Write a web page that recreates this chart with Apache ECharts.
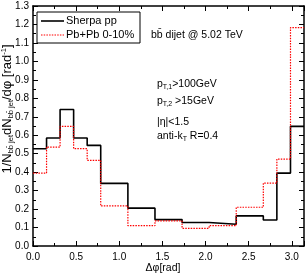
<!DOCTYPE html>
<html><head><meta charset="utf-8">
<script src="https://cdn.jsdelivr.net/npm/echarts@6/dist/echarts.min.js"></script>
<style>html,body{margin:0;padding:0;background:#fff}#c{width:305px;height:277px}</style>
</head><body><div id="c"></div>
<script>
// bin edges of Δφ (rad)
var binEdges = [0, 0.157, 0.314, 0.471, 0.628, 0.785, 1.100, 1.414, 1.728, 2.042, 2.356, 2.670, 2.827, 2.985, 3.1416];
// Sherpa pp
var ppValues = [0.527, 0.585, 0.739, 0.585, 0.545, 0.339, 0.205, 0.143, 0.127, 0.118, 0.163, 0.141, 0.395, 0.648];
// Pb+Pb 0-10%
var pbpbValues = [0.395, 0.536, 0.648, 0.527, 0.464, 0.217, 0.110, 0.136, 0.096, 0.110, 0.210, 0.341, 0.471, 1.183];
var xTicks = [0.0, 0.5, 1.0, 1.5, 2.0, 2.5, 3.0];
var yTicks = [0.0, 0.1, 0.2, 0.3, 0.4, 0.5, 0.6, 0.7, 0.8, 0.9, 1.0, 1.1, 1.2, 1.3];
var seriesNames = ['Sherpa pp', 'Pb+Pb 0-10%'];

var FONT = "'Liberation Sans',Arial,Helvetica,sans-serif";

function stepData(vals){
  return binEdges.map(function(e,i){ return [e, vals[Math.min(i, vals.length-1)]]; });
}
function axisCommon(showLabel, pos, margin){
  return {
    type:'value', position:pos,
    axisLine:{show:true, onZero:false, lineStyle:{color:'#000', width:1.5}},
    axisTick:{show:true, inside:true, length:5, lineStyle:{color:'#000', width:1}},
    minorTick:{show:true, splitNumber:2, length:3, lineStyle:{color:'#000', width:1}},
    splitLine:{show:false}, minorSplitLine:{show:false},
    axisLabel:{show:showLabel, color:'#000', fontFamily:FONT, fontSize:10, margin:margin||4,
      formatter:function(v){return v.toFixed(1);}}
  };
}
var xMax = binEdges[binEdges.length-1];
var xb = axisCommon(true,'bottom',6); xb.min = xTicks[0]; xb.max = xMax; xb.interval = 0.5;
xb.axisLabel.showMaxLabel = false;
var xt = axisCommon(false,'top'); xt.min = xTicks[0]; xt.max = xMax; xt.interval = 0.5;
var yl = axisCommon(true,'left',4); yl.min = yTicks[0]; yl.max = yTicks[yTicks.length-1]; yl.interval = 0.1;
var yr = axisCommon(false,'right'); yr.min = yTicks[0]; yr.max = yTicks[yTicks.length-1]; yr.interval = 0.1;

var AF = 10.5;
var richA = {
  m:{fontSize:AF, lineHeight:14, fontFamily:FONT, fill:'#000'},
  s:{fontSize:7, lineHeight:8, verticalAlign:'bottom', fontFamily:FONT, fill:'#000'}
};
function txt(x,y,text,extra){
  return {type:'text', x:x, y:y, silent:true, style:Object.assign({text:text, fontFamily:FONT, fontSize:AF, fill:'#000',
    verticalAlign:'middle', align:'left', rich:richA}, extra||{})};
}

var chart = echarts.init(document.getElementById('c'), null, {renderer:'canvas'});
chart.setOption({
  animation:false,
  grid:{left:33, right:1, top:6, bottom:31, containLabel:false},
  xAxis:[xb, xt],
  yAxis:[yl, yr],
  series:[
    {name:seriesNames[0], type:'line', step:'end', symbol:'none', showSymbol:false,
     xAxisIndex:0, yAxisIndex:0, lineStyle:{color:'#000', width:1.6}, itemStyle:{color:'#000'},
     data:stepData(ppValues), z:3},
    {name:seriesNames[1], type:'line', step:'end', symbol:'none', showSymbol:false,
     xAxisIndex:0, yAxisIndex:0, lineStyle:{color:'#ff0000', width:1.2, type:[1.5,1.2]}, itemStyle:{color:'#ff0000'},
     data:stepData(pbpbValues), z:4}
  ],
  graphic:[
    // legend box
    {type:'rect', shape:{x:37, y:12, width:103, height:31}, style:{fill:'#fff', stroke:'#000', lineWidth:1}, z:10},
    {type:'line', shape:{x1:41, y1:21, x2:64, y2:21}, style:{stroke:'#000', lineWidth:1.6}, z:11},
    {type:'line', shape:{x1:41, y1:35, x2:64, y2:35}, style:{stroke:'#ff0000', lineWidth:1.2, lineDash:[1.5,1.2]}, z:11},
    {type:'text', x:66, y:21, z:11, style:{text:seriesNames[0], fontFamily:FONT, fontSize:11, fill:'#000', verticalAlign:'middle'}},
    {type:'text', x:66, y:35, z:11, style:{text:seriesNames[1], fontFamily:FONT, fontSize:11, fill:'#000', verticalAlign:'middle'}},
    // annotations
    txt(151, 35, '{m|bb\u0304 dijet @ 5.02 TeV}'),
    txt(157, 84, '{m|p}{s|T,1}{m|>100GeV}'),
    txt(157, 101, '{m|p}{s|T,2}{m| >15GeV}'),
    txt(157, 122, '{m||\u03b7|<1.5}'),
    txt(157, 136, '{m|anti-k}{s|T}{m| R=0.4}'),
    txt(163, 268, '{m|\u0394\u03c6[rad]}', {align:'center'}),
    {type:'text', x:7, y:109, rotation:Math.PI/2, silent:true,
     style:{text:'{m|1/N}{s|bb\u0304 jet}{m|dN}{s|bb\u0304 jet}{m|/d\u03c6 [rad}{sup|-1}{m|]}',
       align:'center', verticalAlign:'middle', fontFamily:FONT, fontSize:13, fill:'#000',
       rich:{m:{fontSize:13, lineHeight:15, fontFamily:FONT, fill:'#000'},
             s:{fontSize:7.5, lineHeight:8, verticalAlign:'bottom', fontFamily:FONT, fill:'#000'},
             sup:{fontSize:7.5, lineHeight:8, verticalAlign:'top', fontFamily:FONT, fill:'#000'}}}}
  ]
});
</script></body></html>
